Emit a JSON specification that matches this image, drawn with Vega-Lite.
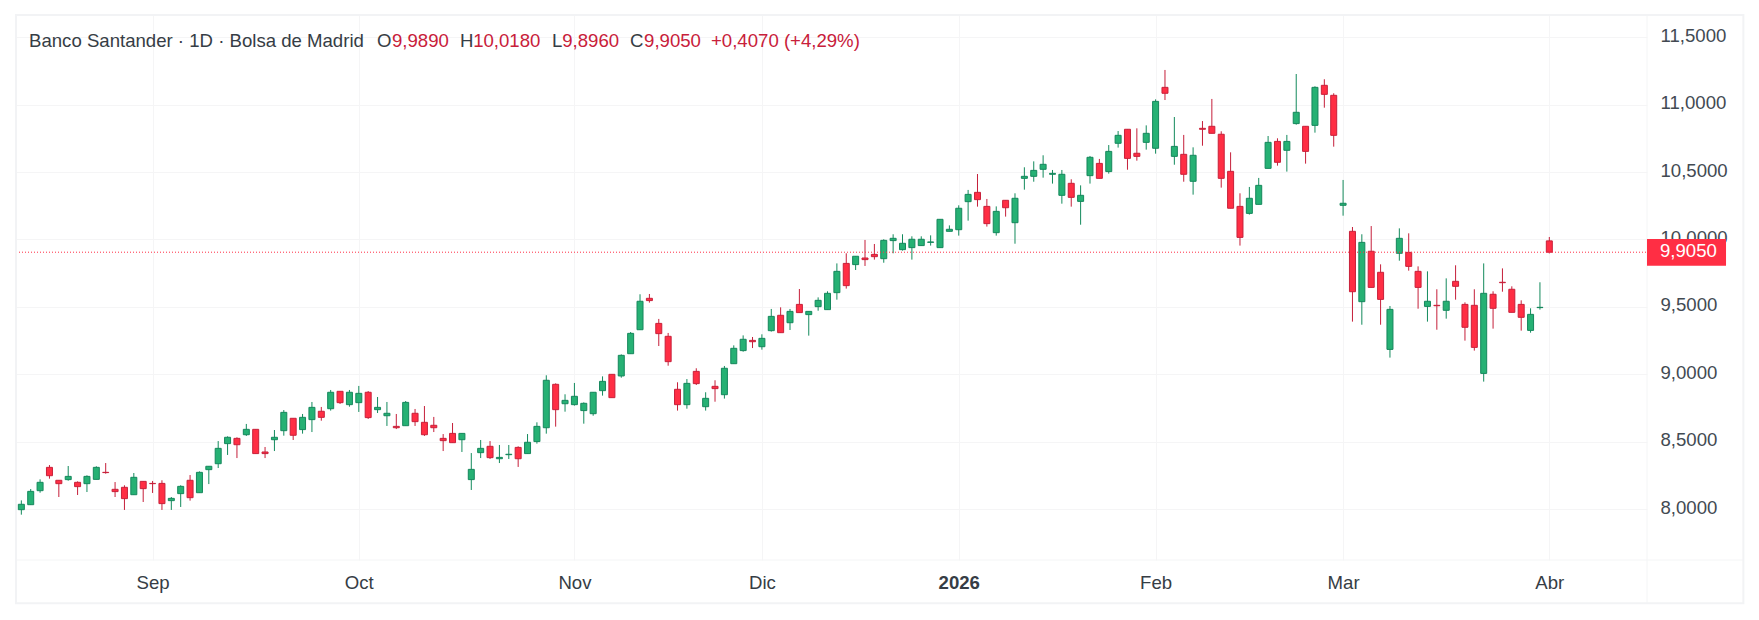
{"$schema":"https://vega.github.io/schema/vega-lite/v6.json","width":1631,"height":545,"autosize":{"type":"none"},"padding":{"left":16,"top":15,"right":112,"bottom":60},"background":"#ffffff","config":{"view":{"stroke":null},"font":"Liberation Sans"},
"data":{"values":[{"k":1}]},
"datasets":{"candles":[
{"n":0,"o":7.995,"h":8.064,"l":7.958,"c":8.035},{"n":1,"o":8.032,"h":8.148,"l":8.030,"c":8.131},{"n":2,"o":8.136,"h":8.220,"l":8.121,"c":8.198},{"n":3,"o":8.309,"h":8.326,"l":8.225,"c":8.247},{"n":4,"o":8.213,"h":8.213,"l":8.089,"c":8.188},{"n":5,"o":8.218,"h":8.319,"l":8.210,"c":8.242},{"n":6,"o":8.198,"h":8.205,"l":8.104,"c":8.166},{"n":7,"o":8.188,"h":8.250,"l":8.126,"c":8.242},{"n":8,"o":8.220,"h":8.317,"l":8.220,"c":8.309},{"n":9,"o":8.272,"h":8.341,"l":8.262,"c":8.270},
{"n":10,"o":8.146,"h":8.200,"l":8.089,"c":8.129},{"n":11,"o":8.161,"h":8.176,"l":7.993,"c":8.077},{"n":12,"o":8.106,"h":8.267,"l":8.106,"c":8.235},{"n":13,"o":8.205,"h":8.205,"l":8.052,"c":8.151},{"n":14,"o":8.190,"h":8.208,"l":8.119,"c":8.188},{"n":15,"o":8.190,"h":8.213,"l":7.993,"c":8.040},{"n":16,"o":8.062,"h":8.089,"l":7.993,"c":8.079},{"n":17,"o":8.114,"h":8.176,"l":8.015,"c":8.168},{"n":18,"o":8.213,"h":8.252,"l":8.062,"c":8.084},{"n":19,"o":8.121,"h":8.279,"l":8.121,"c":8.272},
{"n":20,"o":8.292,"h":8.317,"l":8.185,"c":8.317},{"n":21,"o":8.336,"h":8.504,"l":8.304,"c":8.450},{"n":22,"o":8.485,"h":8.539,"l":8.401,"c":8.532},{"n":23,"o":8.524,"h":8.532,"l":8.378,"c":8.477},{"n":24,"o":8.551,"h":8.631,"l":8.542,"c":8.591},{"n":25,"o":8.591,"h":8.591,"l":8.411,"c":8.411},{"n":26,"o":8.423,"h":8.460,"l":8.378,"c":8.411},{"n":27,"o":8.514,"h":8.586,"l":8.430,"c":8.532},{"n":28,"o":8.581,"h":8.734,"l":8.544,"c":8.717},{"n":29,"o":8.673,"h":8.673,"l":8.512,"c":8.547},
{"n":30,"o":8.589,"h":8.705,"l":8.559,"c":8.680},{"n":31,"o":8.663,"h":8.794,"l":8.571,"c":8.754},{"n":32,"o":8.725,"h":8.757,"l":8.655,"c":8.680},{"n":33,"o":8.744,"h":8.883,"l":8.730,"c":8.866},{"n":34,"o":8.873,"h":8.873,"l":8.779,"c":8.789},{"n":35,"o":8.774,"h":8.883,"l":8.759,"c":8.866},{"n":36,"o":8.789,"h":8.913,"l":8.720,"c":8.858},{"n":37,"o":8.866,"h":8.875,"l":8.668,"c":8.678},{"n":38,"o":8.737,"h":8.831,"l":8.712,"c":8.754},{"n":39,"o":8.692,"h":8.794,"l":8.616,"c":8.710},
{"n":40,"o":8.613,"h":8.705,"l":8.593,"c":8.603},{"n":41,"o":8.618,"h":8.801,"l":8.618,"c":8.791},{"n":42,"o":8.710,"h":8.742,"l":8.616,"c":8.648},{"n":43,"o":8.643,"h":8.764,"l":8.542,"c":8.551},{"n":44,"o":8.621,"h":8.683,"l":8.571,"c":8.603},{"n":45,"o":8.524,"h":8.556,"l":8.430,"c":8.507},{"n":46,"o":8.561,"h":8.638,"l":8.492,"c":8.492},{"n":47,"o":8.514,"h":8.561,"l":8.423,"c":8.561},{"n":48,"o":8.218,"h":8.415,"l":8.141,"c":8.294},{"n":49,"o":8.418,"h":8.512,"l":8.378,"c":8.450},
{"n":50,"o":8.465,"h":8.504,"l":8.371,"c":8.381},{"n":51,"o":8.373,"h":8.475,"l":8.341,"c":8.383},{"n":52,"o":8.403,"h":8.475,"l":8.371,"c":8.406},{"n":53,"o":8.457,"h":8.465,"l":8.312,"c":8.373},{"n":54,"o":8.411,"h":8.556,"l":8.411,"c":8.495},{"n":55,"o":8.500,"h":8.643,"l":8.485,"c":8.613},{"n":56,"o":8.603,"h":8.992,"l":8.559,"c":8.955},{"n":57,"o":8.925,"h":8.932,"l":8.611,"c":8.737},{"n":58,"o":8.781,"h":8.851,"l":8.722,"c":8.806},{"n":59,"o":8.774,"h":8.935,"l":8.767,"c":8.836},
{"n":60,"o":8.730,"h":8.791,"l":8.633,"c":8.784},{"n":61,"o":8.707,"h":8.866,"l":8.692,"c":8.866},{"n":62,"o":8.878,"h":8.984,"l":8.841,"c":8.947},{"n":63,"o":8.999,"h":8.999,"l":8.826,"c":8.826},{"n":64,"o":8.987,"h":9.147,"l":8.974,"c":9.140},{"n":65,"o":9.152,"h":9.313,"l":9.152,"c":9.303},{"n":66,"o":9.330,"h":9.593,"l":9.330,"c":9.541},{"n":67,"o":9.563,"h":9.595,"l":9.531,"c":9.546},{"n":68,"o":9.377,"h":9.410,"l":9.209,"c":9.301},{"n":69,"o":9.281,"h":9.306,"l":9.063,"c":9.093},
{"n":70,"o":8.888,"h":8.940,"l":8.730,"c":8.774},{"n":71,"o":8.774,"h":8.964,"l":8.744,"c":8.932},{"n":72,"o":9.021,"h":9.044,"l":8.920,"c":8.930},{"n":73,"o":8.759,"h":8.866,"l":8.730,"c":8.821},{"n":74,"o":8.910,"h":8.955,"l":8.796,"c":8.893},{"n":75,"o":8.848,"h":9.061,"l":8.819,"c":9.044},{"n":76,"o":9.078,"h":9.214,"l":9.078,"c":9.192},{"n":77,"o":9.175,"h":9.288,"l":9.167,"c":9.259},{"n":78,"o":9.251,"h":9.276,"l":9.194,"c":9.241},{"n":79,"o":9.204,"h":9.296,"l":9.182,"c":9.266},
{"n":80,"o":9.323,"h":9.484,"l":9.316,"c":9.429},{"n":81,"o":9.437,"h":9.496,"l":9.308,"c":9.308},{"n":82,"o":9.382,"h":9.484,"l":9.328,"c":9.466},{"n":83,"o":9.518,"h":9.632,"l":9.457,"c":9.457},{"n":84,"o":9.442,"h":9.466,"l":9.286,"c":9.466},{"n":85,"o":9.501,"h":9.570,"l":9.471,"c":9.548},{"n":86,"o":9.479,"h":9.615,"l":9.479,"c":9.600},{"n":87,"o":9.605,"h":9.822,"l":9.553,"c":9.763},{"n":88,"o":9.822,"h":9.897,"l":9.635,"c":9.657},{"n":89,"o":9.813,"h":9.875,"l":9.773,"c":9.875},
{"n":90,"o":9.862,"h":9.996,"l":9.803,"c":9.850},{"n":91,"o":9.889,"h":9.966,"l":9.850,"c":9.872},{"n":92,"o":9.857,"h":10.001,"l":9.827,"c":9.993},{"n":93,"o":9.991,"h":10.038,"l":9.897,"c":10.008},{"n":94,"o":9.924,"h":10.038,"l":9.917,"c":9.971},{"n":95,"o":9.939,"h":10.023,"l":9.850,"c":10.001},{"n":96,"o":9.954,"h":10.023,"l":9.954,"c":10.001},{"n":97,"o":9.978,"h":10.030,"l":9.954,"c":9.981},{"n":98,"o":9.939,"h":10.149,"l":9.939,"c":10.149},{"n":99,"o":10.060,"h":10.104,"l":10.060,"c":10.075},
{"n":100,"o":10.072,"h":10.253,"l":10.028,"c":10.231},{"n":101,"o":10.280,"h":10.367,"l":10.139,"c":10.334},{"n":102,"o":10.349,"h":10.485,"l":10.243,"c":10.295},{"n":103,"o":10.245,"h":10.300,"l":10.095,"c":10.117},{"n":104,"o":10.050,"h":10.245,"l":10.028,"c":10.208},{"n":105,"o":10.290,"h":10.290,"l":10.169,"c":10.235},{"n":106,"o":10.124,"h":10.342,"l":9.968,"c":10.305},{"n":107,"o":10.453,"h":10.535,"l":10.369,"c":10.468},{"n":108,"o":10.468,"h":10.579,"l":10.428,"c":10.512},{"n":109,"o":10.520,"h":10.624,"l":10.458,"c":10.557},
{"n":110,"o":10.483,"h":10.515,"l":10.414,"c":10.490},{"n":111,"o":10.327,"h":10.515,"l":10.265,"c":10.483},{"n":112,"o":10.416,"h":10.446,"l":10.243,"c":10.312},{"n":113,"o":10.282,"h":10.401,"l":10.109,"c":10.327},{"n":114,"o":10.473,"h":10.619,"l":10.414,"c":10.609},{"n":115,"o":10.564,"h":10.597,"l":10.453,"c":10.453},{"n":116,"o":10.503,"h":10.700,"l":10.488,"c":10.653},{"n":117,"o":10.713,"h":10.804,"l":10.681,"c":10.772},{"n":118,"o":10.817,"h":10.817,"l":10.517,"c":10.601},{"n":119,"o":10.639,"h":10.824,"l":10.584,"c":10.616},
{"n":120,"o":10.720,"h":10.846,"l":10.666,"c":10.787},{"n":121,"o":10.676,"h":11.039,"l":10.636,"c":11.024},{"n":122,"o":11.128,"h":11.257,"l":11.034,"c":11.084},{"n":123,"o":10.616,"h":10.908,"l":10.554,"c":10.690},{"n":124,"o":10.631,"h":10.775,"l":10.428,"c":10.483},{"n":125,"o":10.431,"h":10.683,"l":10.332,"c":10.624},{"n":126,"o":10.824,"h":10.878,"l":10.695,"c":10.817},{"n":127,"o":10.839,"h":11.042,"l":10.787,"c":10.787},{"n":128,"o":10.780,"h":10.802,"l":10.384,"c":10.453},{"n":129,"o":10.505,"h":10.646,"l":10.231,"c":10.231},
{"n":130,"o":10.245,"h":10.342,"l":9.954,"c":10.015},{"n":131,"o":10.193,"h":10.389,"l":10.184,"c":10.305},{"n":132,"o":10.260,"h":10.456,"l":10.260,"c":10.401},{"n":133,"o":10.527,"h":10.767,"l":10.527,"c":10.720},{"n":134,"o":10.727,"h":10.750,"l":10.547,"c":10.572},{"n":135,"o":10.661,"h":10.775,"l":10.503,"c":10.727},{"n":136,"o":10.859,"h":11.227,"l":10.851,"c":10.943},{"n":137,"o":10.839,"h":10.839,"l":10.562,"c":10.653},{"n":138,"o":10.846,"h":11.136,"l":10.792,"c":11.128},{"n":139,"o":11.143,"h":11.188,"l":10.977,"c":11.076},
{"n":140,"o":11.069,"h":11.084,"l":10.688,"c":10.772},{"n":141,"o":10.253,"h":10.441,"l":10.176,"c":10.268},{"n":142,"o":10.060,"h":10.092,"l":9.390,"c":9.612},{"n":143,"o":9.538,"h":10.038,"l":9.367,"c":9.978},{"n":144,"o":9.912,"h":10.099,"l":9.644,"c":9.644},{"n":145,"o":9.756,"h":9.815,"l":9.367,"c":9.555},{"n":146,"o":9.184,"h":9.506,"l":9.123,"c":9.481},{"n":147,"o":9.897,"h":10.082,"l":9.842,"c":10.008},{"n":148,"o":9.904,"h":10.045,"l":9.768,"c":9.800},{"n":149,"o":9.763,"h":9.800,"l":9.486,"c":9.644},
{"n":150,"o":9.503,"h":9.763,"l":9.390,"c":9.541},{"n":151,"o":9.511,"h":9.630,"l":9.330,"c":9.508},{"n":152,"o":9.474,"h":9.711,"l":9.412,"c":9.541},{"n":153,"o":9.689,"h":9.808,"l":9.553,"c":9.652},{"n":154,"o":9.518,"h":9.533,"l":9.249,"c":9.348},{"n":155,"o":9.511,"h":9.630,"l":9.175,"c":9.199},{"n":156,"o":9.006,"h":9.822,"l":8.945,"c":9.600},{"n":157,"o":9.593,"h":9.615,"l":9.338,"c":9.489},{"n":158,"o":9.682,"h":9.785,"l":9.612,"c":9.679},{"n":159,"o":9.630,"h":9.652,"l":9.459,"c":9.459},
{"n":160,"o":9.518,"h":9.548,"l":9.323,"c":9.422},{"n":161,"o":9.325,"h":9.489,"l":9.308,"c":9.444},{"n":162,"o":9.494,"h":9.682,"l":9.479,"c":9.496},{"n":163,"o":9.989,"h":10.018,"l":9.896,"c":9.905}
]},
"layer":[
{"data":{"name":"candles"},"mark":{"type":"rule","strokeWidth":1},
 "encoding":{"x":{"field":"n","type":"quantitative","scale":{"domain":[-0.569,173.42],"nice":false,"zero":false,"padding":0},"axis":{"orient":"bottom","title":null,"values":[14,36,59,79,100,121,141,163],"labelExpr":"{'14':'Sep','36':'Oct','59':'Nov','79':'Dic','100':'2026','121':'Feb','141':'Mar','163':'Abr'}[datum.value]","labelFontSize":18.6,"labelColor":"#363d45","labelFontWeight":{"condition":{"test":"datum.value==100","value":"bold"},"value":"normal"},"labelPadding":13,"labelOverlap":false,"labelBound":false,"labelFlush":false,"domain":false,"ticks":false,"grid":true,"gridColor":"#f5f5f6","gridWidth":1}},
 "y":{"field":"l","type":"quantitative","scale":{"domain":[7.6217,11.6647],"nice":false,"zero":false,"padding":0},"axis":{"orient":"right","title":null,"values":[8,8.5,9,9.5,10,10.5,11,11.5],"labelExpr":"replace(format(datum.value,'.4f'),'.',',')","labelFontSize":18.6,"labelColor":"#424a52","labelPadding":13,"labelAlign":"left","labelOffset":-2,"labelOverlap":false,"labelBound":false,"labelFlush":false,"domain":false,"ticks":false,"grid":true,"gridColor":"#f5f5f6","gridWidth":1}},
 "y2":{"field":"h"},
 "stroke":{"condition":{"test":"datum.c>=datum.o","value":"#138a5c"},"value":"#c51f3a"}}},
{"data":{"name":"candles"},"mark":{"type":"bar","size":6,"strokeWidth":1},
 "encoding":{"x":{"field":"n","type":"quantitative"},"y":{"field":"o","type":"quantitative"},"y2":{"field":"c"},
 "fill":{"condition":{"test":"datum.c>=datum.o","value":"#26b174"},"value":"#ff2e44"},
 "stroke":{"condition":{"test":"datum.c>=datum.o","value":"#15875c"},"value":"#c8203a"}}},
{"mark":{"type":"rule","stroke":"#ff2e44","strokeWidth":1,"strokeDash":[1,2]},"encoding":{"y":{"datum":9.905,"type":"quantitative"},"x":{"datum":-0.569,"type":"quantitative"},"x2":{"datum":173.42}}},
{"mark":{"type":"rule","stroke":"#f4f5f6","strokeWidth":1},"encoding":{"y":{"datum":7.6217,"type":"quantitative"},"x":{"datum":-0.569,"type":"quantitative"},"x2":{"datum":183.7}}},
{"mark":{"type":"rule","stroke":"#f4f5f6","strokeWidth":1},"encoding":{"x":{"datum":173.42,"type":"quantitative"},"y":{"datum":11.6647,"type":"quantitative"},"y2":{"datum":7.3}}},
{"mark":{"type":"rect","fillOpacity":0,"stroke":"#f2f3f5","strokeWidth":2},"encoding":{"x":{"datum":-0.569,"type":"quantitative"},"x2":{"datum":183.7},"y":{"datum":11.6647,"type":"quantitative"},"y2":{"datum":7.3}}},
{"mark":{"type":"rect","fill":"#ff2e44"},"encoding":{"x":{"datum":173.42,"type":"quantitative"},"x2":{"datum":181.85},"y":{"datum":10.003,"type":"quantitative"},"y2":{"datum":9.805}}},
{"mark":{"type":"text","text":"9,9050","fill":"#ffffff","fontSize":18.6,"align":"left","baseline":"middle","dy":-1.5},"encoding":{"x":{"datum":174.8,"type":"quantitative"},"y":{"datum":9.905,"type":"quantitative"}}},
{"mark":{"type":"text","text":"Banco Santander · 1D · Bolsa de Madrid","fill":"#363d45","fontSize":18.6,"align":"left","baseline":"middle"},"encoding":{"x":{"datum":0.818,"type":"quantitative"},"y":{"datum":11.472,"type":"quantitative"}}},
{"mark":{"type":"text","text":"O","fill":"#363d45","fontSize":18.6,"align":"left","baseline":"middle"},"encoding":{"x":{"datum":37.94,"type":"quantitative"},"y":{"datum":11.472,"type":"quantitative"}}},
{"mark":{"type":"text","text":"9,9890","fill":"#c8203a","fontSize":18.6,"align":"left","baseline":"middle"},"encoding":{"x":{"datum":39.54,"type":"quantitative"},"y":{"datum":11.472,"type":"quantitative"}}},
{"mark":{"type":"text","text":"H","fill":"#363d45","fontSize":18.6,"align":"left","baseline":"middle"},"encoding":{"x":{"datum":46.8,"type":"quantitative"},"y":{"datum":11.472,"type":"quantitative"}}},
{"mark":{"type":"text","text":"10,0180","fill":"#c8203a","fontSize":18.6,"align":"left","baseline":"middle"},"encoding":{"x":{"datum":48.2,"type":"quantitative"},"y":{"datum":11.472,"type":"quantitative"}}},
{"mark":{"type":"text","text":"L","fill":"#363d45","fontSize":18.6,"align":"left","baseline":"middle"},"encoding":{"x":{"datum":56.6,"type":"quantitative"},"y":{"datum":11.472,"type":"quantitative"}}},
{"mark":{"type":"text","text":"9,8960","fill":"#c8203a","fontSize":18.6,"align":"left","baseline":"middle"},"encoding":{"x":{"datum":57.7,"type":"quantitative"},"y":{"datum":11.472,"type":"quantitative"}}},
{"mark":{"type":"text","text":"C","fill":"#363d45","fontSize":18.6,"align":"left","baseline":"middle"},"encoding":{"x":{"datum":64.93,"type":"quantitative"},"y":{"datum":11.472,"type":"quantitative"}}},
{"mark":{"type":"text","text":"9,9050","fill":"#c8203a","fontSize":18.6,"align":"left","baseline":"middle"},"encoding":{"x":{"datum":66.43,"type":"quantitative"},"y":{"datum":11.472,"type":"quantitative"}}},
{"mark":{"type":"text","text":"+0,4070 (+4,29%)","fill":"#c8203a","fontSize":18.6,"align":"left","baseline":"middle"},"encoding":{"x":{"datum":73.57,"type":"quantitative"},"y":{"datum":11.472,"type":"quantitative"}}}
]}
